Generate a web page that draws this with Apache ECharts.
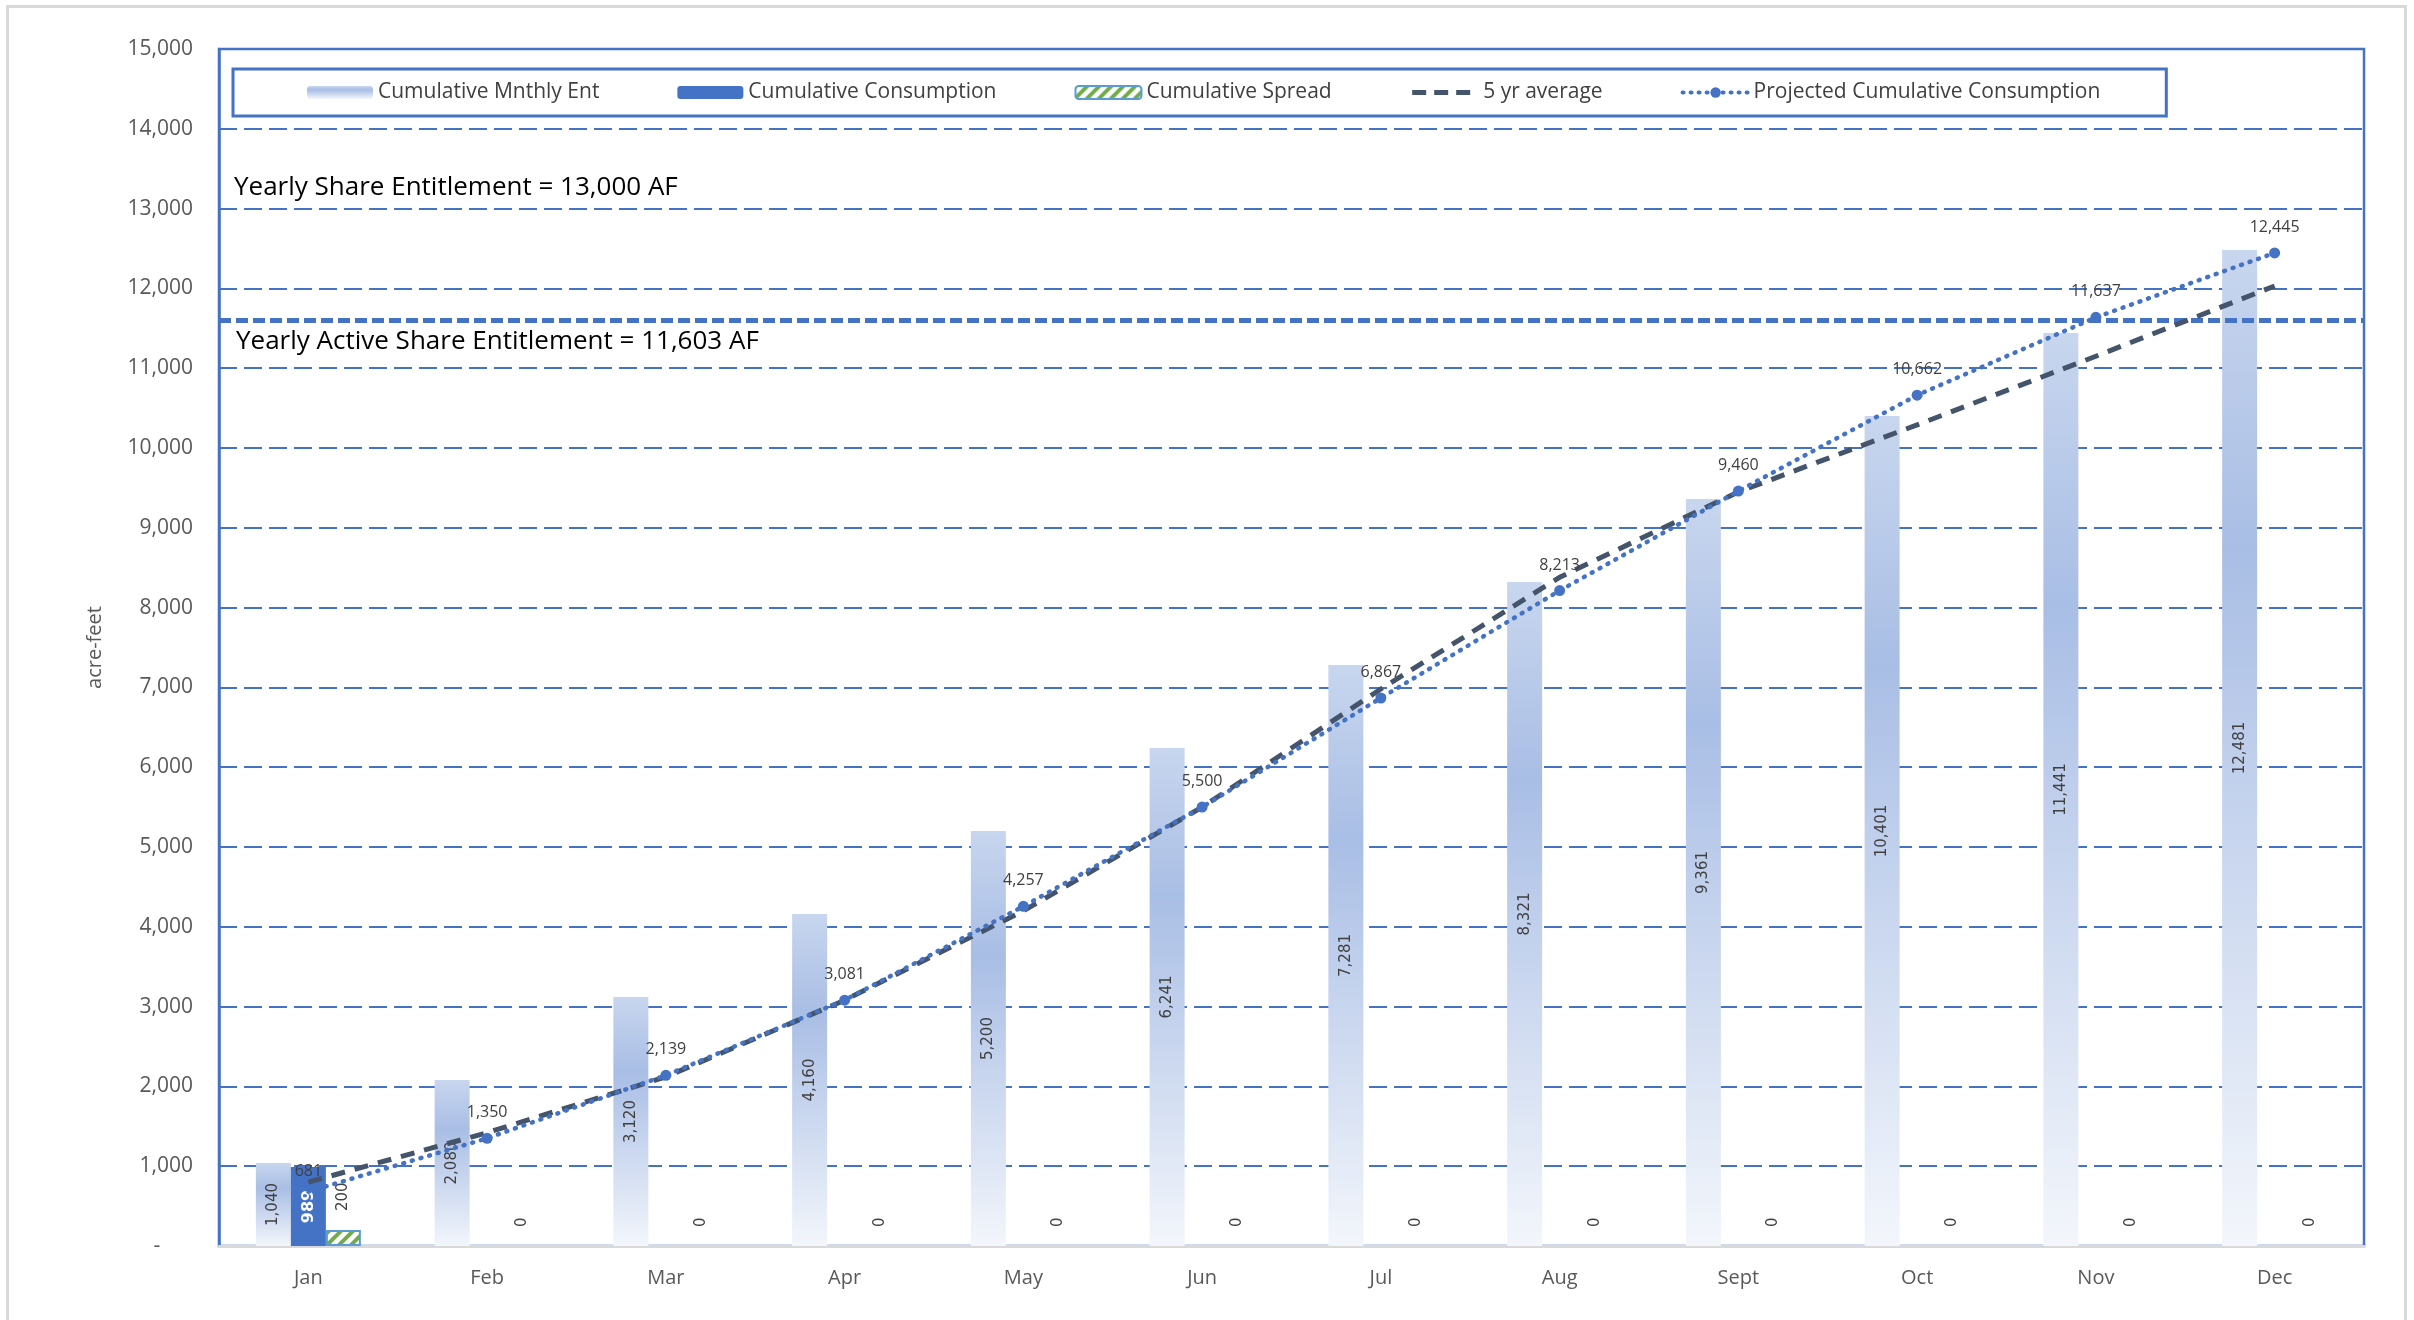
<!DOCTYPE html>
<html>
<head>
<meta charset="utf-8">
<script src="https://cdn.jsdelivr.net/npm/echarts@6/dist/echarts.min.js"></script>
<style>
html,body{margin:0;padding:0;background:#fff;}
#chart{width:2414px;height:1320px;}
</style>
</head>
<body>
<div id="chart"></div>
<script>
const months = ['Jan','Feb','Mar','Apr','May','Jun','Jul','Aug','Sept','Oct','Nov','Dec'];
const cumulativeMnthlyEnt = [1040, 2080, 3120, 4160, 5200, 6241, 7281, 8321, 9361, 10401, 11441, 12481];
const cumulativeConsumption = [989, null, null, null, null, null, null, null, null, null, null, null];
const cumulativeSpread = [200, 0, 0, 0, 0, 0, 0, 0, 0, 0, 0, 0];
const fiveYrAverage = [800, 1420, 2120, 3080, 4200, 5500, 6980, 8380, 9450, 10290, 11150, 12030];
const projectedConsumption = [681, 1350, 2139, 3081, 4257, 5500, 6867, 8213, 9460, 10662, 11637, 12445];
const yearlyShareEntitlement = 13000;
const yearlyActiveShareEntitlement = 11603;
const yTicks = {min: 0, max: 15000, interval: 1000};

const fmt = v => Number(v).toLocaleString('en-US');

// hatch pattern for spread bars
const pat = document.createElement('canvas');
pat.width = 12; pat.height = 12;
(function(){
  const c = pat.getContext('2d');
  c.fillStyle = '#ffffff'; c.fillRect(0,0,12,12);
  c.strokeStyle = '#70AD47'; c.lineWidth = 4;
  c.beginPath();
  c.moveTo(-3,15); c.lineTo(15,-3);
  c.moveTo(-9,9); c.lineTo(9,-9);
  c.moveTo(3,21); c.lineTo(21,3);
  c.stroke();
})();

const entGradient = new echarts.graphic.LinearGradient(0,0,0,1,[
  {offset:0, color:'#C8D6EE'},
  {offset:0.3, color:'#A9BEE5'},
  {offset:1, color:'#F3F6FB'}
]);

const projData = projectedConsumption.map((v,i) => i === 0 ? {value: v, symbolSize: 1} : v);
const spreadData = cumulativeSpread.map(v => v === 0 ? {value: v, itemStyle: {borderWidth: 0}} : v);

const chart = echarts.init(document.getElementById('chart'), null, {renderer:'canvas'});
chart.setOption({
  backgroundColor: '#ffffff',
  animation: false,
  textStyle: {fontFamily: 'Open Sans'},
  grid: {left: 219, right: 50, top: 49, bottom: 74, show: true, borderColor: '#4472C4', borderWidth: 2.5, containLabel: false},
  legend: {
    left: 233, top: 69,
    padding: [13, 66, 13, 74],
    borderColor: '#4472C4', borderWidth: 3,
    itemWidth: 66, itemHeight: 13, itemGap: 78,
    textStyle: {fontFamily: 'Open Sans', fontSize: 21, color: '#404040'},
    data: [
      'Cumulative Mnthly Ent',
      'Cumulative Consumption',
      'Cumulative Spread',
      {name: '5 yr average', itemStyle: {opacity: 0}, lineStyle: {width: 5, type: [14, 8]}},
      {name: 'Projected Cumulative Consumption', lineStyle: {width: 4, type: [1, 7], cap: 'round'}}
    ]
  },
  xAxis: {
    type: 'category', data: months,
    axisLine: {show: true, lineStyle: {color: '#D9D9D9', width: 3}},
    axisTick: {show: false},
    axisLabel: {fontFamily: 'Open Sans', fontSize: 20, color: '#595959', margin: 22}
  },
  yAxis: {
    type: 'value', min: yTicks.min, max: yTicks.max, interval: yTicks.interval,
    name: 'acre-feet', nameLocation: 'middle', nameGap: 114, nameRotate: 90,
    nameTextStyle: {fontFamily: 'Open Sans', fontSize: 20, color: '#595959'},
    axisLine: {show: true, lineStyle: {color: '#4472C4', width: 2.5}},
    axisTick: {show: false},
    axisLabel: {fontFamily: 'Open Sans', fontSize: 21, color: '#595959', margin: 26,
      formatter: v => v === 0 ? '-      ' : fmt(v)},
    splitLine: {show: true, lineStyle: {color: '#4472C4', width: 2, type: [18, 7]}}
  },
  series: [
    {
      name: 'Cumulative Mnthly Ent', type: 'bar', data: cumulativeMnthlyEnt,
      barWidth: 35, barGap: '0%',
      itemStyle: {color: entGradient},
      label: {show: true, position: 'inside', rotate: 90, fontFamily: 'DejaVu Sans', fontSize: 15, color: '#404040', formatter: p => fmt(p.value)},
      markLine: {
        silent: true, symbol: 'none', label: {show: false},
        lineStyle: {color: '#4472C4', width: 5, type: [12, 5]},
        data: [{yAxis: yearlyActiveShareEntitlement}]
      }
    },
    {
      name: 'Cumulative Consumption', type: 'bar', data: cumulativeConsumption,
      barWidth: 35, barGap: '0%',
      itemStyle: {color: '#4472C4'},
      label: {show: true, position: 'inside', rotate: 90, fontFamily: 'DejaVu Sans', fontSize: 16, fontWeight: 'bold', color: '#ffffff', formatter: p => fmt(p.value)}
    },
    {
      name: 'Cumulative Spread', type: 'bar', data: spreadData,
      barWidth: 35, barGap: '0%',
      itemStyle: {color: {image: pat, repeat: 'repeat'}, borderColor: '#5B9BD5', borderWidth: 2},
      label: {show: true, position: 'top', rotate: 90, align: 'left', verticalAlign: 'middle', distance: 19,
        fontFamily: 'DejaVu Sans', fontSize: 15, color: '#404040', formatter: p => fmt(p.value)}
    },
    {
      name: '5 yr average', type: 'line', data: fiveYrAverage,
      symbol: 'none', z: 5,
      lineStyle: {color: '#44546A', width: 5, type: [14, 10]},
      itemStyle: {color: '#44546A'}
    },
    {
      name: 'Projected Cumulative Consumption', type: 'line', data: projData,
      symbol: 'circle', symbolSize: 11, z: 6,
      lineStyle: {color: '#4472C4', width: 4.5, type: [1, 8], cap: 'round'},
      itemStyle: {color: '#4472C4'},
      label: {show: true, position: 'top', distance: 12, fontFamily: 'Open Sans', fontSize: 16, color: '#404040', formatter: p => fmt(p.value)}
    }
  ],
  graphic: [
    {type: 'rect', left: 5, top: 4, shape: {width: 2398, height: 1330}, style: {fill: 'none', stroke: '#D9D9D9', lineWidth: 3}, silent: true, z: -1},
    {type: 'text', x: 234, y: 188, style: {text: 'Yearly Share Entitlement = ' + fmt(yearlyShareEntitlement) + ' AF', fontFamily: 'Open Sans', fontSize: 26, fill: '#000000', textVerticalAlign: 'middle', verticalAlign: 'middle'}},
    {type: 'text', x: 236, y: 342, style: {text: 'Yearly Active Share Entitlement = ' + fmt(yearlyActiveShareEntitlement) + ' AF', fontFamily: 'Open Sans', fontSize: 26, fill: '#000000', textVerticalAlign: 'middle', verticalAlign: 'middle'}}
  ]
});
</script>
</body>
</html>
